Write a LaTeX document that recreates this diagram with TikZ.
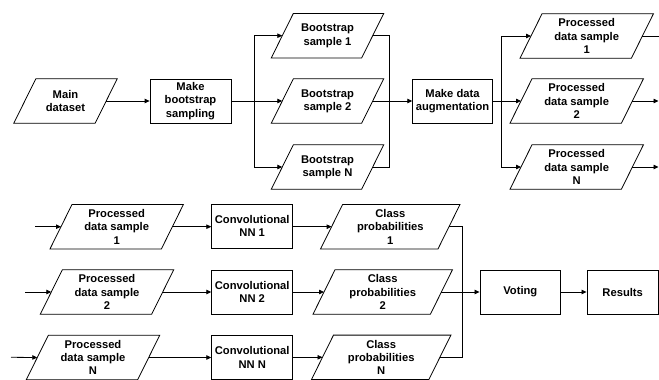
\documentclass[tikz,border=0pt]{standalone}
\usepackage{fontspec}
\setmainfont{Liberation Sans}
\usetikzlibrary{arrows.meta}
\begin{document}
\begin{tikzpicture}[x=1pt,y=-1pt,
  every node/.style={font=\fontsize{11.2}{13.3}\selectfont\bfseries, align=center, inner sep=0pt},
  box/.style={draw, line width=0.8pt, minimum height=44pt, minimum width=81pt},
  para/.style={minimum height=44pt},
  conn/.style={line width=0.8pt},
  arr/.style={line width=0.8pt, -{Triangle[length=5pt,width=4.5pt]}}]
\useasboundingbox (0,0) rectangle (659,380);
% top half
\node[para, minimum width=81pt] (main) at (65.5,101) {Main\\dataset};
\node[box] (mb) at (190.5,101) {Make\\bootstrap\\sampling};
\node[para, minimum width=90pt] (bs1) at (327.5,35.7) {Bootstrap\\sample 1};
\node[para, minimum width=90pt] (bs2) at (327.5,101) {Bootstrap\\sample 2};
\node[para, minimum width=90pt] (bsN) at (327.5,167) {Bootstrap\\sample N};
\node[box, minimum width=79.6pt] (mda) at (452.5,101) {Make data\\augmentation};
\node[para, minimum width=111pt] (pd1) at (586.7,36) {Processed\\data sample\\1};
\node[para, minimum width=111pt] (pd2) at (576.7,101) {Processed\\data sample\\2};
\node[para, minimum width=111pt] (pdN) at (576.7,167) {Processed\\data sample\\N};
% bottom half
\node[para, minimum width=111pt] (qd1) at (116.7,226.7) {Processed\\data sample\\1};
\node[para, minimum width=111pt] (qd2) at (107,292) {Processed\\data sample\\2};
\node[para, minimum width=111pt] (qdN) at (93,357.5) {Processed\\data sample\\N};
\node[box] (cv1) at (252.2,226.2) {Convolutional\\NN 1};
\node[box] (cv2) at (252.2,292) {Convolutional\\NN 2};
\node[box] (cvN) at (252.2,357.5) {Convolutional\\NN N};
\node[para, minimum width=117pt] (cp1) at (390.3,226.7) {Class\\probabilities\\1};
\node[para, minimum width=117pt] (cp2) at (382.7,292) {Class\\probabilities\\2};
\node[para, minimum width=117pt] (cpN) at (381.2,357.3) {Class\\probabilities\\N};
\node[box, minimum width=80.7pt] (vote) at (520.3,292) {Voting};
\node[box, minimum width=71.5pt] (res) at (622.7,292) {Results};
% parallelogram outlines
\foreach \n in {main,bs1,bs2,bsN,pd1,pd2,pdN,qd1,qd2,qdN,cp1,cp2,cpN}
  \draw[line width=0.8pt] ([xshift=11pt]\n.north west) -- ([xshift=11pt]\n.north east)
    -- ([xshift=-11pt]\n.south east) -- ([xshift=-11pt]\n.south west) -- cycle;
% coordinates
\coordinate (s1) at (254,101);
\coordinate (m1) at (389,101);
\coordinate (s2) at (501.7,101);
\coordinate (m2) at (462.3,292);
\coordinate (in1) at (35,226.7);
\coordinate (in2) at (25,292);
\coordinate (inN) at (11,357.3);
\coordinate (out1) at (659,36);
\coordinate (out2) at (658.5,101);
\coordinate (outN) at (658.5,167);
% connectors top
\draw[arr] (main) -- (mb);
\draw[conn] (mb.east) -- (s1);
\draw[arr] (s1) |- (bs1.west);
\draw[arr] (s1) -- (bs2.west);
\draw[arr] (s1) |- (bsN.west);
\draw[conn] (bs1.east) -| (m1);
\draw[conn] (bsN.east) -| (m1);
\draw[arr] (bs2.east) -- (mda.west);
\draw[conn] (mda.east) -- (s2);
\draw[arr] (s2) |- (pd1.west);
\draw[arr] (s2) -- (pd2.west);
\draw[arr] (s2) |- (pdN.west);
\draw[conn] (pd1.east) -- (out1);
\draw[arr] (pd2.east) -- (out2);
\draw[arr] (pdN.east) -- (outN);
% connectors bottom
\draw[arr] (in1) -- (qd1.west);
\draw[arr] (in2) -- (qd2.west);
\draw[arr] (inN) -- (qdN.west);
\draw[arr] (qd1.east) -- (cv1.west |- qd1.east);
\draw[arr] (qd2.east) -- (cv2.west |- qd2.east);
\draw[arr] (qdN.east) -- (cvN.west |- qdN.east);
\draw[arr] (cv1.east |- cp1.west) -- (cp1.west);
\draw[arr] (cv2.east) -- (cp2.west);
\draw[arr] (cvN.east |- cpN.west) -- (cpN.west);
\draw[conn] (cp1.east) -| (m2);
\draw[conn] (cpN.east) -| (m2);
\draw[arr] (cp2.east) -- (vote.west);
\draw[arr] (vote) -- (res);
\end{tikzpicture}
\end{document}
